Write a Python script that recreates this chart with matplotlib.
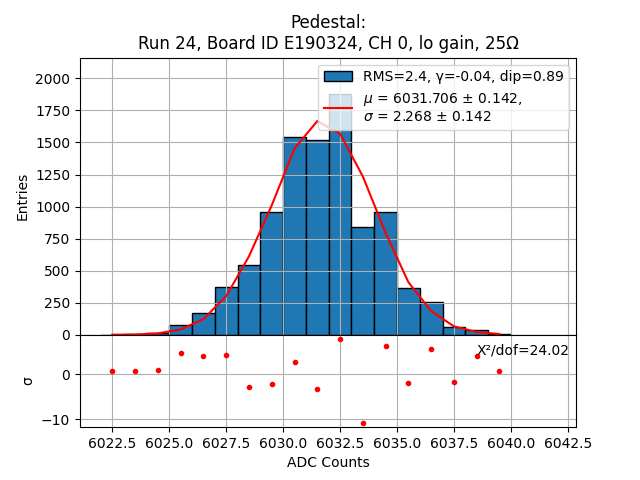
import numpy as np
import matplotlib
matplotlib.use("Agg")
import matplotlib.pyplot as plt

# Histogram bins (left edges, width 1) and counts
bin_edges = [6022, 6023, 6024, 6025, 6026, 6027, 6028, 6029, 6030, 6031,
             6032, 6033, 6034, 6035, 6036, 6037, 6038, 6039, 6040]
counts = [1, 3, 11, 78, 172, 375, 547, 961, 1539, 1523,
          1878, 844, 961, 367, 255, 57, 39, 8]

# Fit curve evaluated at bin centres
bin_centers = [6022.5, 6023.5, 6024.5, 6025.5, 6026.5, 6027.5, 6028.5, 6029.5, 6030.5,
               6031.5, 6032.5, 6033.5, 6034.5, 6035.5, 6036.5, 6037.5, 6038.5, 6039.5]
fit_values = [1, 2, 11, 42, 122, 302, 612, 1010, 1453,
              1667, 1568, 1235, 795, 410, 185, 66, 22, 6]

# Residuals in sigma
residuals = [0.67, 0.67, 0.89, 4.67, 4.0, 4.22, -2.89, -2.22, 2.67,
             -3.33, 7.85, -10.9, 6.2, -2.0, 5.55, -1.78, 4.0, 0.67]

hist_label = "RMS=2.4, γ=-0.04, dip=0.89"
fit_label = "$\\mu$ = 6031.706 ± 0.142,\n$\\sigma$ = 2.268 ± 0.142"
chi_text = "X²/dof=24.02"
title = "Pedestal:\nRun 24, Board ID E190324, CH 0, lo gain, 25Ω"

fig, (ax, axr) = plt.subplots(2, 1, sharex=True, figsize=(6.4, 4.8), dpi=100,
                              gridspec_kw=dict(height_ratios=[3, 1], hspace=0))

ax.hist(bin_centers, bins=bin_edges, weights=counts, color="#1f77b4",
        edgecolor="black", label=hist_label)
ax.plot(bin_centers, fit_values, color="red", label=fit_label)
ax.set_ylim(0, 2162)
ax.set_yticks([0, 250, 500, 750, 1000, 1250, 1500, 1750, 2000])
ax.set_ylabel("Entries")
ax.set_title(title)
ax.grid(True)
ax.legend(loc="upper right")

axr.plot(bin_centers, residuals, "r.")
axr.set_ylim(-11.76, 8.78)
axr.set_yticks([-10, 0])
axr.set_ylabel("σ")
axr.set_xlabel("ADC Counts")
axr.grid(True)
axr.text(6038.5, 5.4, chi_text, ha="left", va="center")

axr.set_xlim(6021.08, 6042.86)
axr.set_xticks([6022.5, 6025.0, 6027.5, 6030.0, 6032.5, 6035.0, 6037.5, 6040.0, 6042.5])

fig.savefig("out.png", dpi=100)
